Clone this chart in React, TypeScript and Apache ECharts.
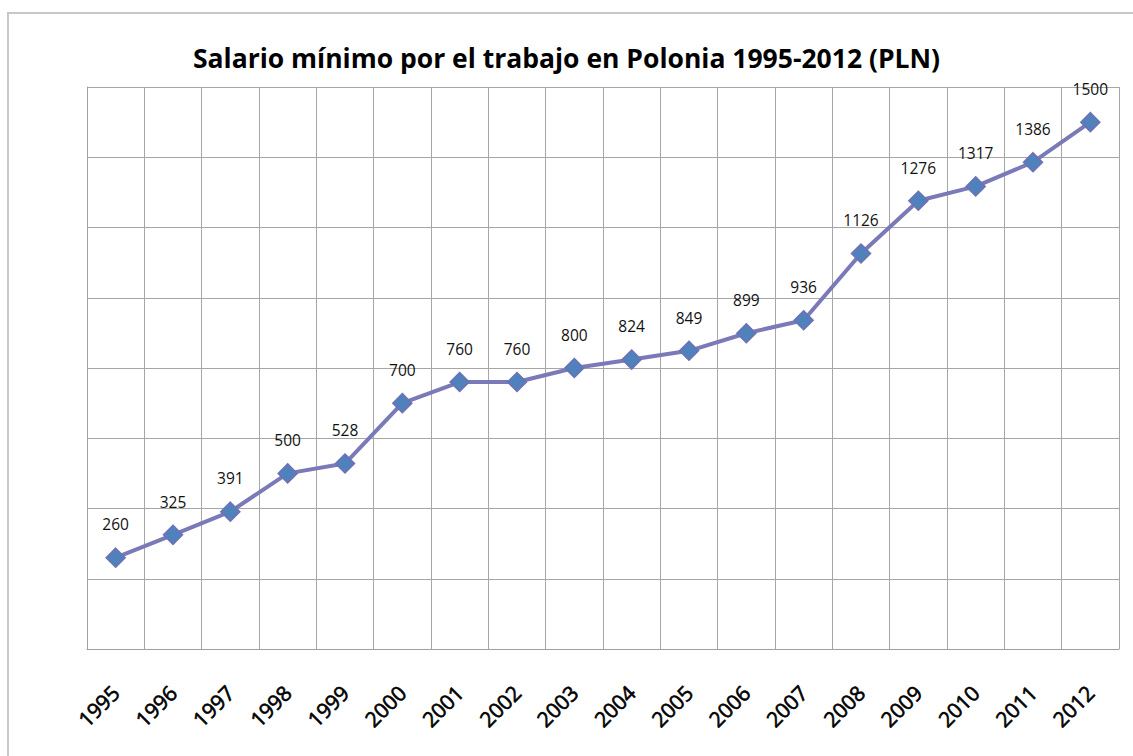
import React, { useEffect, useRef } from "react";
import * as echarts from "echarts";

const years = ["1995","1996","1997","1998","1999","2000","2001","2002","2003","2004","2005","2006","2007","2008","2009","2010","2011","2012"];
const wages = [260,325,391,500,528,700,760,760,800,824,849,899,936,1126,1276,1317,1386,1500];
const titleText = "Salario mínimo por el trabajo en Polonia 1995-2012 (PLN)";

export default function App() {
  const ref = useRef<HTMLDivElement>(null);
  useEffect(() => {
    if (!ref.current) return;
    const chart = echarts.init(ref.current, null, { renderer: "svg" });
    chart.setOption({
      animation: false,
      backgroundColor: "#ffffff",
      title: {
        text: titleText,
        left: "center",
        top: 39,
        textStyle: { fontFamily: "Open Sans", fontWeight: "bold", fontSize: 26.5, color: "#000" },
      },
      graphic: [
        { type: "rect", shape: { x: 8, y: 13, width: 1140, height: 760 }, style: { fill: "none", stroke: "#c8c8c8", lineWidth: 2 } },
      ],
      grid: { left: 87, right: 14, top: 87, bottom: 107 },
      xAxis: {
        type: "category",
        data: years,
        boundaryGap: true,
        axisLine: { show: true, lineStyle: { color: "#a0a0a0", width: 1 } },
        axisTick: { show: false },
        splitLine: { show: true, interval: 0, lineStyle: { color: "#a6a6a6", width: 1 } },
        axisLabel: {
          interval: 0,
          rotate: 45,
          margin: 40,
          fontFamily: "Open Sans",
          fontWeight: "normal",
          fontSize: 21,
          color: "#000",
          textBorderColor: "#000",
          textBorderWidth: 0.6,
        },
      },
      yAxis: {
        type: "value",
        min: 0,
        max: 1600,
        interval: 200,
        axisLine: { show: true, lineStyle: { color: "#a0a0a0" } },
        axisTick: { show: false },
        axisLabel: { show: false },
        splitLine: { show: true, lineStyle: { color: "#a6a6a6", width: 1 } },
      },
      series: [
        {
          type: "line",
          data: wages,
          symbol: "diamond",
          symbolSize: 19,
          lineStyle: { color: "#7a7ab8", width: 4 },
          itemStyle: { color: "#4f81bd", borderColor: "#7070b4", borderWidth: 1.5 },
          label: {
            show: true,
            position: "top",
            distance: 15,
            fontFamily: "Open Sans",
            fontSize: 15.5,
            color: "#111",
          },
        },
      ],
    });
    return () => chart.dispose();
  }, []);
  return <div ref={ref} style={{ width: 1133, height: 756, position: "absolute", left: 0, top: 0 }} />;
}
